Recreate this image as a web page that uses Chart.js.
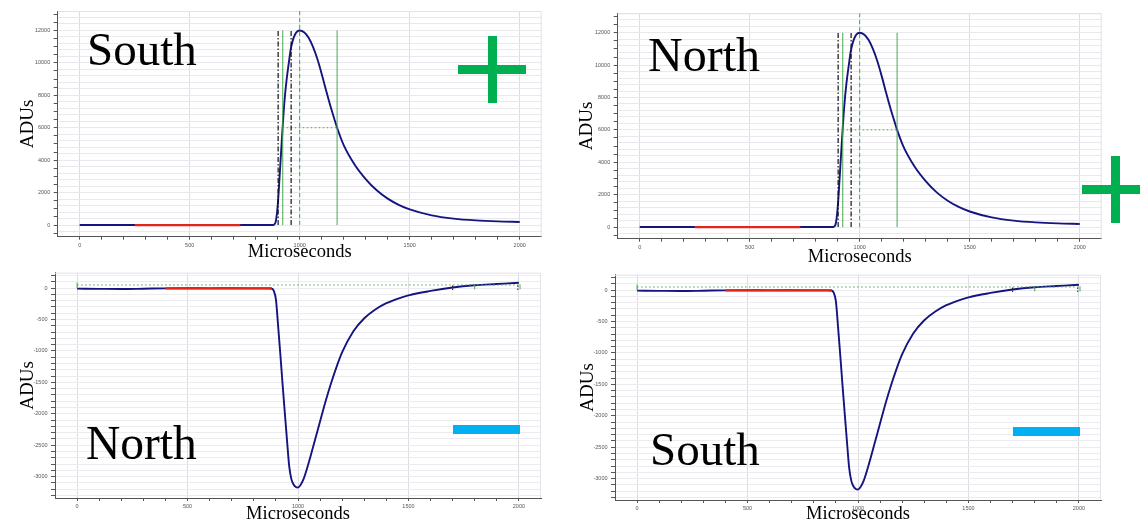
<!DOCTYPE html>
<html>
<head>
<meta charset="utf-8">
<script src="https://cdn.jsdelivr.net/npm/chart.js@4.4.1/dist/chart.umd.min.js"></script>
<style>
  body { margin: 0; background: #fff; }
  #page { position: relative; width: 1140px; height: 525px; overflow: hidden; background: #fff; }
  canvas { position: absolute; }
  .side { position: absolute; font-family: "Liberation Serif", "Times New Roman", serif; line-height: 1; color: #000; white-space: nowrap; }
  .bar { position: absolute; }
</style>
</head>
<body>
<div id="page">
  <canvas id="southPlus" width="560" height="264" style="left:0;top:0"></canvas>
  <canvas id="northPlus" width="560" height="268" style="left:560px;top:0"></canvas>
  <canvas id="northMinus" width="560" height="263" style="left:0;top:262px"></canvas>
  <canvas id="southMinus" width="560" height="263" style="left:560px;top:262px"></canvas>

  <div class="side" style="left:87px;top:25.6px;font-size:47px">South</div>
  <div class="side" style="left:648px;top:30.8px;font-size:48px">North</div>
  <div class="side" style="left:86px;top:420.2px;font-size:47.5px">North</div>
  <div class="side" style="left:650px;top:425.6px;font-size:47px">South</div>

  <div class="bar" style="left:458px;top:65.3px;width:67.5px;height:8.7px;background:#00b050"></div>
  <div class="bar" style="left:488px;top:36px;width:8.7px;height:67.3px;background:#00b050"></div>
  <div class="bar" style="left:1082px;top:185px;width:67px;height:9px;background:#00b050"></div>
  <div class="bar" style="left:1111px;top:156px;width:9px;height:67px;background:#00b050"></div>
  <div class="bar" style="left:453px;top:425px;width:67px;height:8.7px;background:#00b0f0"></div>
  <div class="bar" style="left:1013px;top:426.7px;width:67px;height:9px;background:#00b0f0"></div>
</div>
<script>
// positive pulse (top row)
const pulseTimes = [0, 100, 200, 250, 300, 400, 500, 600, 700, 730, 800, 860, 880,
  890, 900, 910, 920, 930, 940, 950, 960, 970, 980, 990, 1000,
  1020, 1040, 1060, 1080, 1100, 1120, 1140, 1160, 1170,
  1200, 1250, 1300, 1350, 1400, 1450, 1500,
  1600, 1700, 1800, 1900, 2000];
const pulseAdu = [0, 0, 0, 0, 0, 0, 0, 0, 0, 0, 0, 0, 0,
  150, 1200, 3300, 5500, 7500, 8900, 9950, 10900, 11450, 11780, 11950, 12000,
  11890, 11560, 11000, 10250, 9320, 8300, 7320, 6430, 6000,
  4930, 3720, 2836, 2140, 1626, 1244, 961,
  596, 395, 285, 224, 191];
const pulseRed = [250, 730];
const blackMarks = [902, 961];
const greenMarks = [923, 1170];
const peakTime = 1000;
const peakAdu = 12000;
const halfAdu = 6000;

// negative pulse (bottom row)
const dipTimes = [0, 100, 200, 300, 400, 500, 600, 700, 800, 860, 880,
  890, 900, 910, 920, 930, 940, 950, 960, 970, 980, 990, 1000,
  1010, 1025, 1050, 1075, 1100, 1125, 1150, 1175, 1200,
  1250, 1300, 1350, 1400, 1450, 1500,
  1600, 1700, 1800, 1900, 2000];
const dipAdu = [-8, -12, -15, -10, -4, -3, -4, -3, -4, -5, -6,
  -40, -180, -600, -1050, -1520, -1970, -2410, -2830, -3040, -3125, -3165, -3172,
  -3140, -3040, -2760, -2440, -2120, -1800, -1510, -1250, -1020,
  -690, -480, -340, -240, -170, -115,
  -45, 10, 45, 65, 85];
const dipRed = [400, 880];
const baselineLevel = 50;
const blackTail = [1700, 1995];
const greenTail = [1800, 2005];

// tick labels
const xTickLabels = [0, 500, 1000, 1500, 2000];
const pulseTickLabels = [0, 2000, 4000, 6000, 8000, 10000, 12000];
const dipTickLabels = [0, -500, -1000, -1500, -2000, -2500, -3000];

const serif = "'Liberation Serif', 'Times New Roman', serif";
const sans = "'Liberation Sans', Arial, sans-serif";
Chart.defaults.font.family = sans;

const navy = '#15157f';
const red = '#e3261d';
const green = '#47a64c';

function toPoints(xs, ys) {
  return xs.map((x, i) => ({ x: x, y: ys[i] }));
}
function vline(x, y0, y1) {
  return [{ x: x, y: y0 }, { x: x, y: y1 }];
}
function steps(from, to, step) {
  const out = [];
  for (let v = from; v <= to + 1e-9; v += step) out.push({ value: v });
  return out;
}
function lineSet(data, color, width, dash) {
  return { data: data, borderColor: color, borderWidth: width, borderDash: dash || [],
    pointRadius: 0, fill: false, tension: 0 };
}

const framePlugin = {
  id: 'frame',
  beforeDatasetsDraw(chart) {
    const a = chart.chartArea;
    const ctx = chart.ctx;
    ctx.save();
    ctx.strokeStyle = '#e2e2e8';
    ctx.lineWidth = 1;
    ctx.beginPath();
    ctx.moveTo(a.left, a.top + 0.5);
    ctx.lineTo(a.right - 0.5, a.top + 0.5);
    ctx.lineTo(a.right - 0.5, a.bottom);
    ctx.stroke();
    ctx.restore();
  }
};

function buildPanel(id, p) {
  const lh = 1.2;
  const curve = toPoints(p.times, p.values);
  const redPart = curve.filter(pt => pt.x >= p.red[0] && pt.x <= p.red[1]);
  const datasets = [lineSet(redPart, red, 2.2)].concat(p.markers, [
    Object.assign(lineSet(curve, navy, 1.9), { cubicInterpolationMode: 'monotone' })
  ]);

  const scales = {
    x: {
      type: 'linear', min: -100, max: 2100,
      afterBuildTicks: s => { s.ticks = steps(0, 2000, 100); },
      afterFit: s => { s.height = p.h - p.area.b; },
      grid: {
        color: c => (c.tick && c.tick.value % 500 === 0) ? '#dcdce4' : 'rgba(0,0,0,0)',
        tickColor: '#555', tickLength: 3
      },
      border: { color: '#555', width: 1 },
      ticks: {
        autoSkip: false, maxRotation: 0, padding: 2.5, color: '#555',
        font: { size: 5.5, family: sans },
        callback: v => xTickLabels.includes(v) ? String(v) : ''
      },
      title: {
        display: true, text: 'Microseconds', color: '#000',
        font: { family: serif, size: 18.5, lineHeight: lh },
        padding: { top: 0, bottom: Math.max(0, p.h - p.xTitleY - 18.5 * lh / 2) }
      }
    },
    y: {
      position: 'left', min: p.yMin, max: p.yMax,
      afterBuildTicks: s => { s.ticks = steps(p.tickFrom, p.tickTo, p.tickStep); },
      afterFit: s => { s.width = p.area.l; },
      grid: { drawOnChartArea: p.gridStep === p.tickStep, color: '#ebebf0', tickColor: '#555', tickLength: 4 },
      border: { color: '#555', width: 1 },
      ticks: {
        autoSkip: false, padding: 3.5, color: '#555',
        font: { size: 5.5, family: sans },
        callback: v => p.labels.includes(v) ? String(v) : ''
      },
      title: {
        display: true, text: 'ADUs', color: '#000',
        font: { family: serif, size: 19, lineHeight: lh },
        padding: { top: p.yTitleX - 19 * lh / 2, bottom: 0 }
      }
    }
  };
  if (p.gridStep !== p.tickStep) {
    scales.yg = {
      position: 'left', min: p.yMin, max: p.yMax,
      afterBuildTicks: s => { s.ticks = steps(p.gridFrom, p.gridTo, p.gridStep); },
      afterFit: s => { s.width = 0; },
      grid: { color: '#e8e8ee', drawTicks: false },
      border: { display: false },
      ticks: { display: false }
    };
  }

  return new Chart(document.getElementById(id), {
    type: 'line',
    data: { datasets: datasets },
    options: {
      responsive: false, animation: false, devicePixelRatio: 1,
      layout: { padding: { left: 0, top: p.area.t, right: p.w - p.area.r, bottom: 0 } },
      plugins: { legend: { display: false }, tooltip: { enabled: false } },
      scales: scales
    },
    plugins: [framePlugin]
  });
}

function pulseMarkers() {
  const sets = [];
  blackMarks.forEach(x => sets.push(lineSet(vline(x, 0, peakAdu), '#111', 1.2, [5, 2, 1.5, 2])));
  greenMarks.forEach(x => sets.push(lineSet(vline(x, 0, peakAdu), green, 1)));
  sets.push(lineSet(vline(peakTime, 0, 13200), green, 1, [4, 3]));
  sets.push(lineSet([{ x: greenMarks[0], y: halfAdu }, { x: greenMarks[1], y: halfAdu }], green, 1, [1.5, 2.5]));
  return sets;
}
function dipMarkers() {
  const sets = [];
  sets.push(lineSet([{ x: 0, y: baselineLevel }, { x: 2000, y: baselineLevel }], green, 1, [1.5, 2.5]));
  sets.push(lineSet(vline(0, 0, 90), green, 1));
  blackTail.forEach(x => sets.push(lineSet(vline(x, -30, 60), '#111', 1, [1.5, 1.5])));
  greenTail.forEach(x => sets.push(lineSet(vline(x, -20, 60), green, 1)));
  return sets;
}

const pulseBase = {
  times: pulseTimes, values: pulseAdu, red: pulseRed, labels: pulseTickLabels,
  yMin: -720, yMax: 13200, tickFrom: -500, tickTo: 13000, tickStep: 500,
  gridFrom: -400, gridTo: 13200, gridStep: 400
};
const dipBase = {
  times: dipTimes, values: dipAdu, red: dipRed, labels: dipTickLabels,
  yMin: -3340, yMax: 245, tickFrom: -3300, tickTo: 200, tickStep: 100,
  gridFrom: -3300, gridTo: 200, gridStep: 100
};

buildPanel('southPlus', Object.assign({}, pulseBase, {
  w: 560, h: 264, area: { l: 57.7, t: 11, r: 541.7, b: 236.7 },
  yTitleX: 27.6, xTitleY: 252.6, markers: pulseMarkers()
}));
buildPanel('northPlus', Object.assign({}, pulseBase, {
  w: 560, h: 268, area: { l: 57.7, t: 13.3, r: 541.7, b: 238.7 },
  yTitleX: 27.5, xTitleY: 258, markers: pulseMarkers()
}));
buildPanel('northMinus', Object.assign({}, dipBase, {
  w: 560, h: 263, area: { l: 55, t: 10.7, r: 541, b: 236 },
  yTitleX: 28.5, xTitleY: 252.5, markers: dipMarkers()
}));
buildPanel('southMinus', Object.assign({}, dipBase, {
  w: 560, h: 263, area: { l: 55, t: 12.7, r: 541, b: 238 },
  yTitleX: 28, xTitleY: 253, markers: dipMarkers()
}));
</script>
</body>
</html>
